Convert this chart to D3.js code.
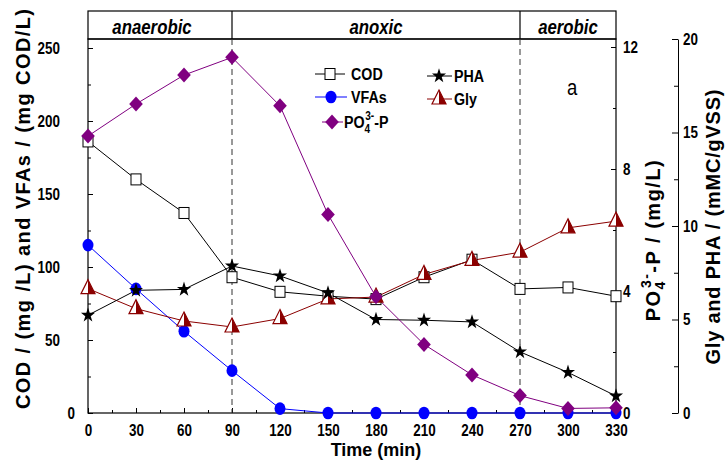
<!DOCTYPE html>
<html>
<head>
<meta charset="utf-8">
<script src="https://cdn.jsdelivr.net/npm/d3@7"></script>
<style>
  body { margin: 0; background: #fff; }
  svg { display: block; }
</style>
</head>
<body>
<svg width="727" height="473"></svg>
<script>
// time (min) and the five measured series
const times = [0, 30, 60, 90, 120, 150, 180, 210, 240, 270, 300, 330];
const cod  = [186, 160, 137, 93, 83, 80, 78, 93, 105, 85, 86, 80];
const vfas = [115, 85, 56, 29, 3, 0, 0, 0, 0, 0, 0, 0];
const po4  = [9.08, 10.13, 11.08, 11.66, 10.07, 6.51, 3.81, 2.25, 1.25, 0.57, 0.15, 0.17];
const pha  = [5.23, 6.56, 6.61, 7.86, 7.33, 6.42, 5.0, 4.96, 4.87, 3.27, 2.17, 0.91];
const gly  = [6.65, 5.58, 4.92, 4.6, 5.05, 6.1, 6.2, 7.41, 8.16, 8.6, 9.9, 10.26];

const phaseNames = ["anaerobic", "anoxic", "aerobic"];
const phaseEdges = [0, 90, 270, 330];

const leftTicks = [0, 50, 100, 150, 200, 250];
const po4Ticks = [0, 4, 8, 12];
const glyTicks = [0, 5, 10, 15, 20];

const svg = d3.select("svg");

// pick a narrow face if one is installed, otherwise squeeze the regular one
const probe = svg.append("text").attr("font-size", 40).text("COD and VFAs 250");
probe.attr("font-family", "sans-serif");
const wSans = probe.node().getComputedTextLength();
probe.attr("font-family", "'Liberation Sans Narrow', sans-serif");
const wNarrow = probe.node().getComputedTextLength();
probe.remove();
const hasNarrow = wNarrow < wSans * 0.95;
const face = hasNarrow ? "'Liberation Sans Narrow', sans-serif" : "'Liberation Sans', Arial, sans-serif";
const sx = hasNarrow ? 1 : 0.84;
svg.style("font-family", face);

const pLeft = 88, pRight = 616, pTop = 39, pBottom = 413, bandTop = 11;

// Scales
const x = d3.scaleLinear().domain([0, 330]).range([pLeft, pRight]);
const yL = d3.scaleLinear().domain([0, 250]).range([pBottom, 48]);
const yP = d3.scaleLinear().domain([0, 12]).range([pBottom, 47]);
const yG = d3.scaleLinear().domain([0, 20]).range([pBottom, pTop]);

function squash(sel, dx, dy) {
  sel.attr("x", 0).attr("dx", null)
    .attr("transform", `translate(${dx},${dy}) scale(${sx},1)`);
}

// Axes
const gx = svg.append("g").attr("transform", `translate(0,${pBottom})`)
  .call(d3.axisBottom(x).tickValues(times).tickSize(-5).tickSizeOuter(0).tickPadding(12));
gx.selectAll("text").attr("transform", `scale(${sx},1)`);
svg.append("g").attr("transform", `translate(0,${pBottom})`)
  .call(d3.axisBottom(x).tickValues(d3.range(15, 330, 30)).tickSize(-3).tickFormat(""))
  .select(".domain").remove();

const gl = svg.append("g").attr("transform", `translate(${pLeft},0)`)
  .call(d3.axisLeft(yL).tickValues(leftTicks).tickSize(-5).tickSizeOuter(0));
gl.selectAll("text").each(function(d) {
  squash(d3.select(this), d === 0 ? -13 : -28, 0);
});
svg.append("g").attr("transform", `translate(${pLeft},0)`)
  .call(d3.axisLeft(yL).tickValues(d3.range(25, 250, 50)).tickSize(-3).tickFormat(""))
  .select(".domain").remove();

const gp = svg.append("g").attr("transform", `translate(${pRight},0)`)
  .call(d3.axisRight(yP).tickValues(po4Ticks).tickSize(-5).tickSizeOuter(0));
gp.selectAll("text").each(function() { squash(d3.select(this), 7, 0); })
  .attr("text-anchor", "start");
svg.append("g").attr("transform", `translate(${pRight},0)`)
  .call(d3.axisRight(yP).tickValues([2, 6, 10]).tickSize(-3).tickFormat(""))
  .select(".domain").remove();

const gg = svg.append("g").attr("transform", `translate(678,0)`)
  .call(d3.axisRight(yG).tickValues(glyTicks).tickSize(-6).tickSizeOuter(0));
gg.selectAll("text").each(function() { squash(d3.select(this), 5, 0); })
  .attr("text-anchor", "start");
svg.append("g").attr("transform", `translate(678,0)`)
  .call(d3.axisRight(yG).tickValues([2.5, 7.5, 12.5, 17.5]).tickSize(-4).tickFormat(""))
  .select(".domain").remove();

// remove domains that the frame replaces
[gx, gl, gp].forEach(g => g.select(".domain").remove());
svg.selectAll("g").attr("font-family", null);
svg.selectAll(".tick text")
  .attr("font-size", 16).attr("font-weight", "bold").attr("fill", "#000");
svg.selectAll(".tick line").attr("stroke", "#000");

// Frame and phase band
svg.append("rect")
  .attr("x", pLeft).attr("y", pTop).attr("width", pRight - pLeft).attr("height", pBottom - pTop)
  .attr("fill", "none").attr("stroke", "#000").attr("stroke-width", 1.2);
svg.append("rect")
  .attr("x", pLeft).attr("y", bandTop).attr("width", pRight - pLeft).attr("height", pTop - bandTop)
  .attr("fill", "none").attr("stroke", "#000").attr("stroke-width", 1.2);

[90, 270].forEach(t => {
  svg.append("line")
    .attr("x1", x(t)).attr("x2", x(t)).attr("y1", bandTop).attr("y2", pTop)
    .attr("stroke", "#000").attr("stroke-width", 1.2);
  svg.append("line")
    .attr("x1", x(t)).attr("x2", x(t)).attr("y1", pTop).attr("y2", pBottom)
    .attr("stroke", "#333").attr("stroke-dasharray", "6,4");
});

const phaseX = [152, 376, 568];
phaseNames.forEach((n, i) => {
  svg.append("text").text(n)
    .attr("transform", `translate(${phaseX[i]},34) scale(${sx},1)`)
    .attr("text-anchor", "middle").attr("font-size", 20)
    .attr("font-style", "italic").attr("font-weight", "bold");
});

// Markers
function marker(g, type, cx, cy) {
  const m = g.append("g").attr("transform", `translate(${cx},${cy})`);
  if (type === "square") {
    m.append("rect").attr("x", -5).attr("y", -5.5).attr("width", 10).attr("height", 11)
      .attr("fill", "#fff").attr("stroke", "#000").attr("stroke-width", 1);
  } else if (type === "circle") {
    m.append("ellipse").attr("rx", 5.5).attr("ry", 6.3).attr("fill", "#0000ff");
  } else if (type === "diamond") {
    m.append("path").attr("d", "M0,-7.5L6.8,0L0,7.5L-6.8,0Z").attr("fill", "#800080");
  } else if (type === "star") {
    const pts = d3.range(10).map(k => {
      const r = k % 2 ? 3 : 7.8, a = -Math.PI / 2 + k * Math.PI / 5;
      return [r * Math.cos(a) * 0.95, r * Math.sin(a)];
    });
    m.append("path").attr("d", "M" + pts.join("L") + "Z").attr("fill", "#000");
  } else if (type === "triangle") {
    m.append("path").attr("d", "M0,-9L7,5L-7,5Z")
      .attr("fill", "#fff").attr("stroke", "#8b0000").attr("stroke-width", 1.2);
    m.append("path").attr("d", "M0,-9L7,5L0,5Z").attr("fill", "#8b0000");
  }
}

const series = [
  { name: "COD",  values: cod,  y: yL, color: "#000",    type: "square" },
  { name: "VFAs", values: vfas, y: yL, color: "#0000ff", type: "circle" },
  { name: "Gly",  values: gly,  y: yG, color: "#8b0000", type: "triangle" },
  { name: "PHA",  values: pha,  y: yG, color: "#000",    type: "star" },
  { name: "PO4",  values: po4,  y: yP, color: "#800080", type: "diamond" }
];

const line = d3.line();
series.forEach(s => {
  svg.append("path")
    .attr("d", line(times.map((t, i) => [x(t), s.y(s.values[i])])))
    .attr("fill", "none").attr("stroke", s.color).attr("stroke-width", 1);
});
series.forEach(s => {
  const g = svg.append("g");
  times.forEach((t, i) => marker(g, s.type, x(t), s.y(s.values[i])));
});

// Legend
const legend = svg.append("g");
const legendItems = [
  { type: "square",   color: "#000",    x1: 315, x2: 345, mx: 330, y: 74,  tx: 351, label: "COD" },
  { type: "circle",   color: "#0000ff", x1: 315, x2: 347, mx: 331, y: 97,  tx: 351, label: "VFAs" },
  { type: "diamond",  color: "#800080", x1: 322, x2: 343, mx: 332, y: 122, tx: 344, label: null },
  { type: "star",     color: "#000",    x1: 427, x2: 452, mx: 439, y: 76,  tx: 454, label: "PHA" },
  { type: "triangle", color: "#8b0000", x1: 427, x2: 452, mx: 439, y: 99,  tx: 454, label: "Gly" }
];
legendItems.forEach(d => {
  legend.append("line").attr("x1", d.x1).attr("x2", d.x2).attr("y1", d.y).attr("y2", d.y)
    .attr("stroke", d.color).attr("stroke-width", 1);
  marker(legend, d.type, d.mx, d.y);
  const t = legend.append("text")
    .attr("transform", `translate(${d.tx},${d.y + 6}) scale(${sx},1)`)
    .attr("font-size", 17).attr("font-weight", "bold");
  if (d.label) t.text(d.label);
  else {
    t.append("tspan").text("PO");
    t.append("tspan").attr("dy", 5).attr("font-size", 12).text("4");
    t.append("tspan").attr("dx", -6).attr("dy", -13).attr("font-size", 12).text("3-");
    t.append("tspan").attr("dy", 8).text("-P");
  }
});

svg.append("text").text("a")
  .attr("transform", `translate(567,95) scale(${sx},1)`)
  .attr("font-size", 22);

// Axis titles
svg.append("text").text("Time (min)")
  .attr("x", 376).attr("y", 456).attr("text-anchor", "middle")
  .attr("font-size", 18).attr("font-weight", "bold");

svg.append("text").text("COD / (mg /L) and VFAs / (mg COD/L)")
  .attr("transform", "translate(30,209) rotate(-90)")
  .attr("text-anchor", "middle").attr("font-size", 20).attr("font-weight", "bold")
  .attr("textLength", 400).attr("lengthAdjust", "spacing");

const pt = svg.append("text")
  .attr("transform", "translate(660,240) rotate(-90)")
  .attr("text-anchor", "middle").attr("font-size", 20).attr("font-weight", "bold")
  .attr("letter-spacing", 1.5);
pt.append("tspan").text("PO");
pt.append("tspan").attr("dy", 5).attr("font-size", 14).text("4");
pt.append("tspan").attr("dx", -8).attr("dy", -14).attr("font-size", 14).text("3-");
pt.append("tspan").attr("dy", 9).text("-P / (mg/L)");

svg.append("text").text("Gly and PHA / (mMC/gVSS)")
  .attr("transform", "translate(720,227) rotate(-90)")
  .attr("text-anchor", "middle").attr("font-size", 20).attr("font-weight", "bold")
  .attr("textLength", 275).attr("lengthAdjust", "spacing");
</script>
</body>
</html>
